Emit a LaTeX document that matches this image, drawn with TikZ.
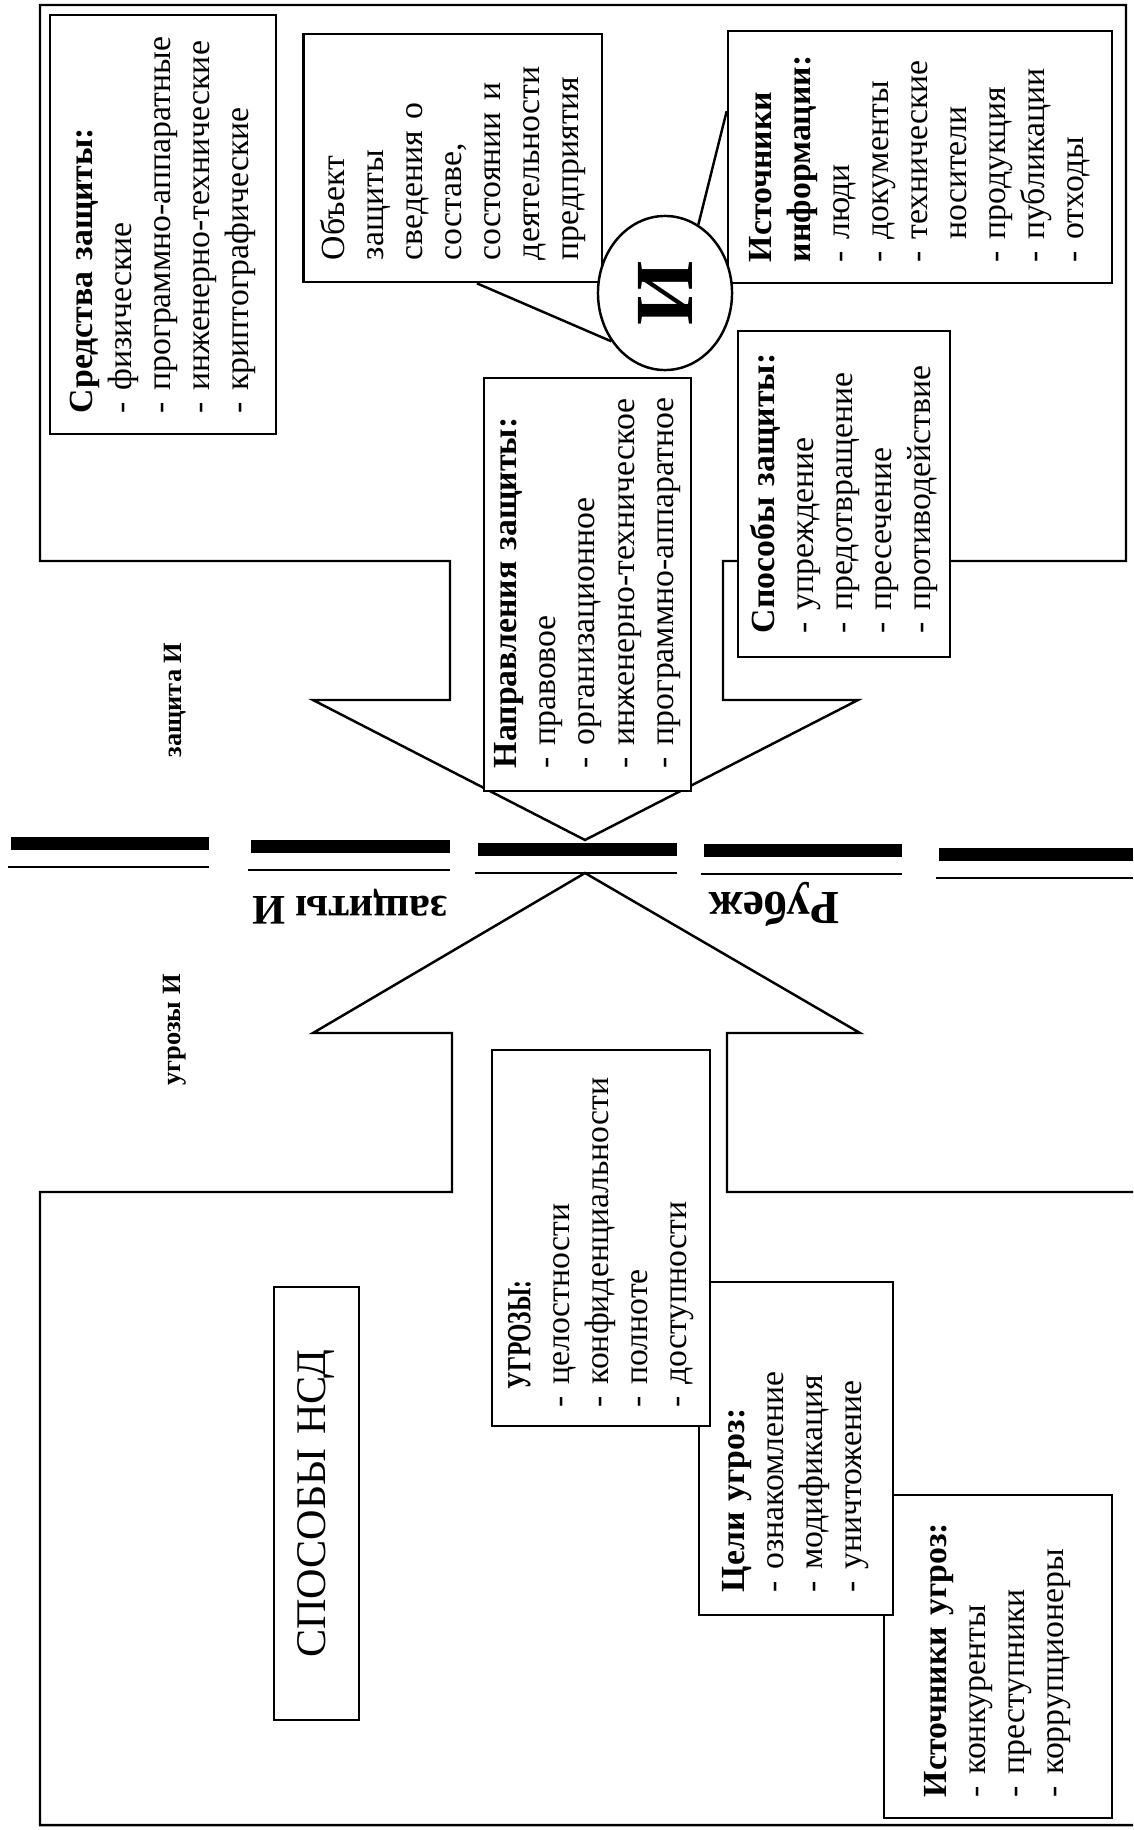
\documentclass[tikz,border=0pt]{standalone}
\usepackage{fontspec}
\setmainfont{Liberation Serif}
\usetikzlibrary{calc,shapes.geometric}

\begin{document}
\begin{tikzpicture}[x=0.01cm, y=-0.01cm,
    shapeline/.style={line width=0.7pt, line join=miter},
    listbox/.style={draw, fill=white, line width=0.7pt, rotate=90, align=left,
        inner ysep=0pt, font=\fontsize{9.6}{11.1}\selectfont,
        execute at begin node={\exhyphenpenalty=10000\hyphenpenalty=10000\relax}},
    bigbold/.style={font=\fontsize{12}{14}\selectfont\bfseries, inner sep=0pt},
    smallbold/.style={font=\fontsize{7.5}{9}\selectfont\bfseries, inner sep=0pt, rotate=90},
    rule/.style={line width=0.8pt}]

    \useasboundingbox (0,0) rectangle (1133,1830);

    % Define tips of the two arrows
    \coordinate (T_tip) at (585,840);
    \coordinate (B_tip) at (585,873);

    % Draw protection arrow (top)
    \draw[shapeline] (40,5) -- (1126,5) -- (1126,561) -- (723,561) -- (723,700) -- (858,700)
        -- (T_tip) -- (313,700) -- (450,700) -- (450,561) -- (40,561) -- cycle;

    % Draw threat arrow (bottom), cut by the right edge
    \draw[shapeline] (1133,1192) -- (727,1192) -- (727,1033) -- (860,1033) -- (B_tip)
        -- (313,1033) -- (452,1033) -- (452,1192) -- (40,1192) -- (40,1825) -- (1133,1825);

    % Draw border bars
    \foreach \xa/\xb/\yy in {11/209/837, 251/450/840, 478/677/843, 704/902/844, 939/1133/848}{
        \fill (\xa,\yy) rectangle (\xb,\yy+13);
        \draw[rule] (\xa-3,\yy+30) -- (\xb,\yy+30);
    }

    % Add labels
    \node[bigbold, rotate=180] (zashity) at (350,907) {защиты И};
    \node[bigbold, rotate=180, font=\fontsize{13.5}{15}\selectfont\bfseries] (rubezh) at (774,904) {Рубеж};
    \node[smallbold] (zashita) at (175,700) {защита И};
    \node[smallbold] (ugrozyI) at (175,1030) {угрозы И};

    % Protection side
    \node[listbox, text width=3.77cm, minimum height=2.26cm, inner xsep=0.21cm] (sredstva) at (163,224.5)
        {\textbf{Средства~защиты:}\\-~физические\\-~программно-аппаратные\\-~инженерно-технические\\-~криптографические};
    \node[listbox, text width=2.04cm, minimum height=2.985cm, inner xsep=0.22cm] (obekt) at (452.75,158)
        {Объект\\защиты\\сведения~о\\составе,\\состоянии~и\\деятельности\\предприятия};
    \node[listbox, text width=2.10cm, minimum height=3.84cm, inner xsep=0.21cm] (istinf) at (920,157)
        {\textbf{Источники}\\\textbf{информации:}\\-~люди\\-~документы\\-~технические\\\phantom{-~}носители\\-~продукция\\-~публикации\\-~отходы};
    \node[listbox, text width=2.78cm, minimum height=2.12cm, inner xsep=0.24cm] (sposoby) at (844,494)
        {\textbf{Способы~защиты:}\\-~упреждение\\-~предотвращение\\-~пресечение\\-~противодействие};
    \node[listbox, text width=3.67cm, minimum height=2.07cm, inner xsep=0.23cm] (napr) at (587.5,584.5)
        {\textbf{Направления~защиты:}\\-~правовое\\-~организационное\\-~инженерно-техническое\\-~программно-аппаратное};

    % Information circle
    \node[draw, ellipse, fill=white, line width=0.7pt, minimum width=1.34cm, minimum height=1.54cm, inner sep=0pt] (info) at (665,293)
        {\rotatebox{90}{\fontsize{23.5}{24}\selectfont\bfseries И}};
    \draw[shapeline] ($(obekt.north west)!0.58!(obekt.south west)$) -- (info.222);
    \draw[shapeline] ($(istinf.north east)!0.32!(istinf.north west)$) -- (info.64);

    % Threat side
    \node[listbox, text width=2.81cm, minimum height=2.28cm, inner xsep=0.21cm] (istugr) at (998,1656.5)
        {\textbf{Источники~угроз:}\\-~конкуренты\\-~преступники\\-~коррупционеры};
    \node[listbox, text width=2.87cm, minimum height=1.94cm, inner xsep=0.23cm] (celi) at (796,1448.5)
        {\textbf{Цели~угроз:}\\-~ознакомление\\-~модификация\\-~уничтожение};
    \node[listbox, text width=3.38cm, minimum height=2.18cm, inner xsep=0.19cm] (ugrozy) at (601,1238)
        {\hspace*{0.18cm}\scalebox{0.7}[1]{\textbf{УГРОЗЫ:}}\\-~целостности\\-~конфиденциальности\\-~полноте\\-~доступности};
    \node[listbox, align=center, text width=4.33cm, inner xsep=0pt, minimum height=0.85cm,
        font=\fontsize{12}{14}\selectfont] (nsd) at (316.5,1503.5) {СПОСОБЫ НСД};
\end{tikzpicture}
\end{document}
